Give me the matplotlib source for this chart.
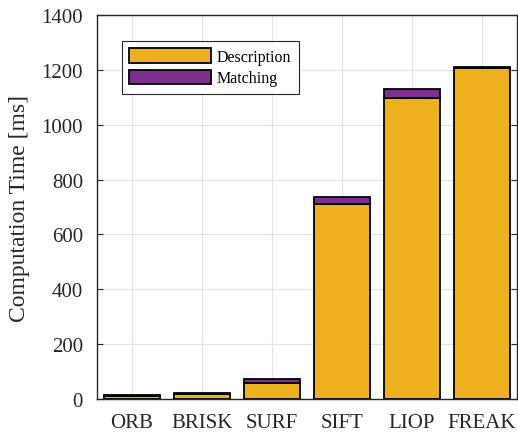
import matplotlib
matplotlib.use("Agg")
import matplotlib.pyplot as plt
import numpy as np

methods = ["ORB", "BRISK", "SURF", "SIFT", "LIOP", "FREAK"]
description = [12, 18, 58, 710, 1097, 1208]
matching = [2, 3, 16, 28, 33, 4]

plt.rcParams['font.family'] = ['Liberation Serif', 'DejaVu Serif']

fig = plt.figure(figsize=(5.18, 4.35), dpi=100)
ax = fig.add_axes([0.187, 0.0805, 0.811, 0.8825])

x = np.arange(len(methods))
ax.bar(x, description, width=0.8, color='#EDB120', edgecolor='black', linewidth=1.3,
       label='Description', zorder=3)
ax.bar(x, matching, width=0.8, bottom=description, color='#7E2F8E', edgecolor='black',
       linewidth=1.3, label='Matching', zorder=3)

ax.set_xlim(-0.5, 5.5)
ax.set_ylim(0, 1400)
ax.set_yticks(np.arange(0, 1401, 200))
ax.set_xticks(x)
ax.set_xticklabels(methods)
ax.tick_params(direction='in', labelsize=15, colors='#262626', length=4,
               top=False, right=True)
ax.tick_params(axis='y', pad=10)
ax.tick_params(axis='x', length=0, pad=10)
ax.grid(True, color='#e3e3e3', linewidth=0.9, zorder=0)
ax.set_axisbelow(True)
for s in ax.spines.values():
    s.set_color('#262626')
    s.set_linewidth(1.0)
ax.set_ylabel('Computation Time [ms]', fontsize=17, color='#262626', labelpad=8)

leg = ax.legend(loc='upper left', bbox_to_anchor=(0.0595, 0.932), borderaxespad=0,
                fontsize=11.5, handlelength=5.1, handleheight=1.0, fancybox=False,
                framealpha=1, edgecolor='#262626', borderpad=0.45, labelspacing=0.3,
                handletextpad=0.4)
leg.get_frame().set_linewidth(0.8)

fig.savefig('out.png', dpi=100)
